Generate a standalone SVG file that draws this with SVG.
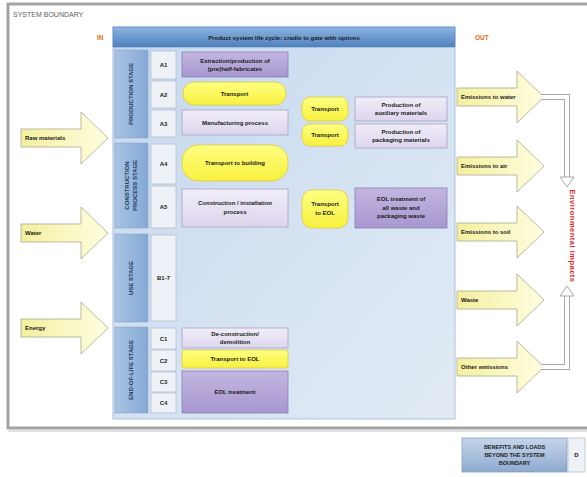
<svg xmlns="http://www.w3.org/2000/svg" width="587" height="477" viewBox="0 0 587 477">
<defs>
<linearGradient id="hdr" x1="0" y1="0" x2="0" y2="1"><stop offset="0" stop-color="#8db3e2"/><stop offset="1" stop-color="#4f81bd"/></linearGradient>
<linearGradient id="panel" x1="0" y1="0" x2="1" y2="1"><stop offset="0" stop-color="#c5d8ee"/><stop offset="1" stop-color="#e2ebf5"/></linearGradient>
<linearGradient id="stage" x1="0" y1="0" x2="1" y2="0"><stop offset="0" stop-color="#a9c4e4"/><stop offset="1" stop-color="#84a9d4"/></linearGradient>
<linearGradient id="purple" x1="0" y1="0" x2="0" y2="1"><stop offset="0" stop-color="#c3b6e0"/><stop offset="1" stop-color="#a797d0"/></linearGradient>
<linearGradient id="lav" x1="0" y1="0" x2="0" y2="1"><stop offset="0" stop-color="#f1edf8"/><stop offset="1" stop-color="#ddd5ee"/></linearGradient>
<linearGradient id="yel" x1="0" y1="0" x2="0" y2="1"><stop offset="0" stop-color="#ffff80"/><stop offset="1" stop-color="#f8f040"/></linearGradient>
<linearGradient id="arr" x1="0" y1="0" x2="1" y2="0"><stop offset="0" stop-color="#f4f0a0"/><stop offset="1" stop-color="#fffde0"/></linearGradient>
<linearGradient id="leg" x1="0" y1="0" x2="0" y2="1"><stop offset="0" stop-color="#c6d6ea"/><stop offset="1" stop-color="#8eaad0"/></linearGradient>
<path id="blk" d="M0,-9 H60 V-26 L87,0 L60,26 V9 H0 Z"/>
<style>
text{font-family:"Liberation Sans",Arial,sans-serif;font-weight:bold;fill:#1a1a1a;}
.t{font-size:6px;text-anchor:middle;}
.st{font-size:6px;text-anchor:middle;fill:#1f3a60;}
.code{fill:#eef2f7;stroke:#b4c0d0;stroke-width:0.8;}
.sbar{fill:url(#stage);stroke:#8aa6c8;stroke-width:0.6;}
.pur{fill:url(#purple);stroke:#8c7db4;stroke-width:0.8;}
.lav{fill:url(#lav);stroke:#a9a2c2;stroke-width:0.8;}
.yel{fill:url(#yel);stroke:#d9cc40;stroke-width:0.8;}
.arrow{fill:url(#arr);stroke:#a8a890;stroke-width:0.8;}
.al{font-size:6px;text-anchor:start;}
.hol1{fill:none;stroke:#a8a8a8;stroke-width:6;}
.hol2{fill:none;stroke:#ffffff;stroke-width:4;}
.head{fill:#ffffff;stroke:#a8a8a8;stroke-width:1;}
</style>
</defs>
<rect x="0" y="0" width="587" height="477" fill="#ffffff"/>
<g id="boundary">
<rect x="8" y="4" width="590" height="424" fill="#ffffff" stroke="#a4a4a4" stroke-width="3"/>
<line x1="8" y1="431" x2="587" y2="431" stroke="#d8d8d8" stroke-width="1.5"/>
<text x="13" y="17" style="font-size:7px;fill:#606060;font-weight:normal">SYSTEM BOUNDARY</text>
<text x="97" y="40" style="font-size:6.5px;fill:#e46c0a">IN</text>
<text x="475" y="40" style="font-size:6.5px;fill:#e46c0a">OUT</text>
</g>
<g id="panel">
<rect x="113" y="27" width="342" height="392" fill="url(#panel)" stroke="#9ab4d2" stroke-width="0.8"/>
<rect x="113" y="27" width="342" height="20" fill="url(#hdr)" stroke="#4f81bd" stroke-width="0.6"/>
<text class="t" x="284" y="39.5">Product system life cycle: cradle to gate with options</text>
</g>
<g id="stage-production">
<rect class="sbar" x="115" y="50" width="33" height="88"/>
<text class="st" transform="translate(133,94) rotate(-90)">PRODUCTION STAGE</text>
</g>
<g id="stage-construction">
<rect class="sbar" x="115" y="143" width="33" height="85"/>
<text class="st" transform="translate(129,185.5) rotate(-90)">CONSTRUCTION</text>
<text class="st" transform="translate(137,185.5) rotate(-90)">PROCESS STAGE</text>
</g>
<g id="stage-use">
<rect class="sbar" x="115" y="234" width="33" height="88"/>
<text class="st" transform="translate(133,278) rotate(-90)">USE STAGE</text>
</g>
<g id="stage-eol">
<rect class="sbar" x="115" y="327" width="33" height="86"/>
<text class="st" transform="translate(133,370) rotate(-90)">END-OF-LIFE STAGE</text>
</g>
<g id="codes">
<rect class="code" x="151" y="51" width="25" height="28"/><text class="t" x="163.5" y="67">A1</text>
<rect class="code" x="151" y="81" width="25" height="27"/><text class="t" x="163.5" y="96.5">A2</text>
<rect class="code" x="151" y="110" width="25" height="27"/><text class="t" x="163.5" y="125.5">A3</text>
<rect class="code" x="151" y="144" width="25" height="40"/><text class="t" x="163.5" y="166">A4</text>
<rect class="code" x="151" y="186" width="25" height="42"/><text class="t" x="163.5" y="209">A5</text>
<rect class="code" x="151" y="235" width="25" height="86"/><text class="t" x="163.5" y="280">B1-7</text>
<rect class="code" x="151" y="328" width="25" height="21"/><text class="t" x="163.5" y="340.5">C1</text>
<rect class="code" x="151" y="350" width="25" height="21"/><text class="t" x="163.5" y="362.5">C2</text>
<rect class="code" x="151" y="372" width="25" height="20"/><text class="t" x="163.5" y="384">C3</text>
<rect class="code" x="151" y="393" width="25" height="20"/><text class="t" x="163.5" y="405">C4</text>
</g>
<g id="a1">
<rect class="pur" x="182" y="52" width="106" height="25"/>
<text class="t" x="235" y="62.5">Extraction/production of</text>
<text class="t" x="235" y="71">(pre)half-fabricates</text>
</g>
<g id="a2">
<rect class="yel" x="183" y="82" width="103" height="23" rx="11"/>
<text class="t" x="234.5" y="95.5">Transport</text>
</g>
<g id="a3">
<rect class="lav" x="182" y="110" width="106" height="25"/>
<text class="t" x="235" y="124.5">Manufacturing process</text>
</g>
<g id="a4">
<rect class="yel" x="182" y="145" width="106" height="36" rx="16"/>
<text class="t" x="235" y="165">Transport to building</text>
</g>
<g id="a5">
<rect class="lav" x="182" y="189" width="106" height="38"/>
<text class="t" x="235" y="205">Construction / installation</text>
<text class="t" x="235" y="213.5">process</text>
</g>
<g id="c1">
<rect class="lav" x="182" y="328" width="106" height="20"/>
<text class="t" x="235" y="336">De-construction/</text>
<text class="t" x="235" y="344">demolition</text>
</g>
<g id="c2">
<rect class="yel" x="182" y="350" width="106" height="18" rx="2"/>
<text class="t" x="235" y="361">Transport to EOL</text>
</g>
<g id="c34">
<rect class="pur" x="182" y="371" width="106" height="42"/>
<text class="t" x="235" y="394">EOL treatment</text>
</g>
<g id="transport-aux">
<rect class="yel" x="302" y="97" width="46" height="24" rx="8"/>
<text class="t" x="325" y="111">Transport</text>
</g>
<g id="transport-pack">
<rect class="yel" x="302" y="124" width="46" height="22" rx="8"/>
<text class="t" x="325" y="137">Transport</text>
</g>
<g id="transport-eol">
<rect class="yel" x="302" y="190" width="46" height="38" rx="10"/>
<text class="t" x="325" y="206">Transport</text>
<text class="t" x="325" y="214.5">to EOL</text>
</g>
<g id="aux">
<rect class="lav" x="355" y="97" width="92" height="24"/>
<text class="t" x="401" y="106.5">Production of</text>
<text class="t" x="401" y="115">auxiliary materials</text>
</g>
<g id="pack">
<rect class="lav" x="355" y="124" width="92" height="24"/>
<text class="t" x="401" y="133.5">Production of</text>
<text class="t" x="401" y="142">packaging materials</text>
</g>
<g id="eol-waste">
<rect class="pur" x="355" y="188" width="92" height="40"/>
<text class="t" x="401" y="201">EOL treatment of</text>
<text class="t" x="401" y="209.5">all waste and</text>
<text class="t" x="401" y="218">packaging waste</text>
</g>
<g id="in-raw"><use href="#blk" class="arrow" transform="translate(21,138)"/><text class="al" x="25" y="140">Raw materials</text></g>
<g id="in-water"><use href="#blk" class="arrow" transform="translate(21,233)"/><text class="al" x="25" y="235">Water</text></g>
<g id="in-energy"><use href="#blk" class="arrow" transform="translate(21,328)"/><text class="al" x="25" y="330">Energy</text></g>
<g id="out-water"><use href="#blk" class="arrow" transform="translate(457,97)"/><text class="al" x="461" y="99">Emissions to water</text></g>
<g id="out-air"><use href="#blk" class="arrow" transform="translate(457,166)"/><text class="al" x="461" y="168">Emissions to air</text></g>
<g id="out-soil"><use href="#blk" class="arrow" transform="translate(457,232)"/><text class="al" x="461" y="234">Emissions to soil</text></g>
<g id="out-waste"><use href="#blk" class="arrow" transform="translate(457,300)"/><text class="al" x="461" y="302">Waste</text></g>
<g id="out-other"><use href="#blk" class="arrow" transform="translate(457,367)"/><text class="al" x="461" y="369">Other emissions</text></g>
<g id="connectors">
<path class="hol1" d="M541,97 H567 V177"/>
<path class="hol2" d="M541,97 H567 V178"/>
<polygon class="head" points="560,177 574,177 567,187"/>
<path class="hol1" d="M541,367 H567 V296"/>
<path class="hol2" d="M541,367 H567 V295"/>
<polygon class="head" points="560,296 574,296 567,286"/>
</g>
<g id="impacts">
<text transform="translate(569.5,236) rotate(90)" style="font-size:7.5px;text-anchor:middle;fill:#e02828;letter-spacing:0.5px">Environmental impacts</text>
</g>
<g id="legend">
<rect x="462" y="438" width="105" height="34" fill="url(#leg)" stroke="#7f9fc0" stroke-width="0.8"/>
<text class="t" x="514.5" y="449" style="font-size:5.5px">BENEFITS AND LOADS</text>
<text class="t" x="514.5" y="457" style="font-size:5.5px">BEYOND THE SYSTEM</text>
<text class="t" x="514.5" y="465" style="font-size:5.5px">BOUNDARY</text>
<rect x="568" y="438" width="17" height="34" fill="#eef2f7" stroke="#b4c0d0" stroke-width="0.8"/>
<text class="t" x="576.5" y="457">D</text>
</g>
</svg>
